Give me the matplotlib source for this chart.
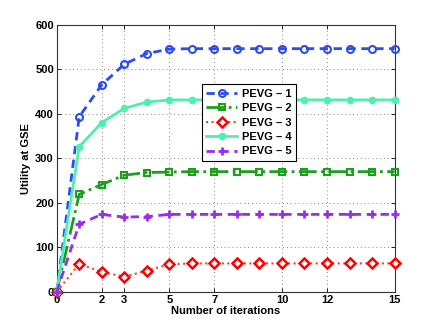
import matplotlib
matplotlib.use("Agg")
import matplotlib.pyplot as plt

iterations = list(range(16))
pevg1 = [0, 393, 465, 511, 535, 545, 546, 546, 546, 546, 546, 546, 546, 546, 546, 546]
pevg2 = [0, 219, 241, 262, 268, 269, 270, 270, 270, 270, 270, 270, 270, 270, 270, 270]
pevg3 = [0, 63, 45, 34, 48, 62, 64, 64, 64, 64, 64, 64, 64, 64, 64, 64]
pevg4 = [0, 326, 380, 412, 426, 431, 431, 431, 431, 431, 431, 431, 431, 431, 431, 431]
pevg5 = [0, 152, 174, 168, 169, 174, 174, 174, 174, 174, 174, 174, 174, 174, 174, 174]
labels = ["PEVG – 1", "PEVG – 2", "PEVG – 3", "PEVG – 4", "PEVG – 5"]
xticks = [0, 2, 3, 5, 7, 10, 12, 15]
yticks = [0, 100, 200, 300, 400, 500, 600]

plt.rcParams['font.family'] = ['Liberation Sans', 'DejaVu Sans']
plt.rcParams['font.weight'] = 'bold'

fig = plt.figure(figsize=(4.36, 3.28), dpi=100)
ax = fig.add_axes([0.13, 0.11, 0.775, 0.815])

ax.plot(iterations, pevg1, linestyle=(0, (3, 2)), color='#2b4cf5', lw=2, marker='o',
        ms=5, mfc='none', mew=1.5, label=labels[0], clip_on=False, zorder=3)
ax.plot(iterations, pevg2, linestyle='-.', color='#1e9e1e', lw=2, marker='s',
        ms=4.5, mfc='none', mew=1.5, label=labels[1], clip_on=False, zorder=3)
ax.plot(iterations, pevg3, linestyle=':', color='#ff3a3a', lw=1.5, marker='D',
        ms=5, mfc='white', mec='#ff0000', mew=1.8, label=labels[2], clip_on=False, zorder=3)
ax.plot(iterations, pevg4, linestyle='-', color='#4ef0b0', lw=2, marker='o',
        ms=4.5, mfc='#4ef0b0', mew=1, label=labels[3], clip_on=False, zorder=3)
ax.plot(iterations, pevg5, linestyle=(0, (3, 2)), color='#9a2cf0', lw=2, marker='+',
        ms=6, mew=2, label=labels[4], clip_on=False, zorder=3)

ax.set_xlim(0, 15)
ax.set_ylim(0, 600)
ax.set_xticks(xticks)
ax.set_yticks(yticks)
ax.tick_params(direction='in', top=True, right=True, labelsize=8, length=3, width=0.6,
               pad=2)
for lab in ax.get_xticklabels() + ax.get_yticklabels():
    lab.set_fontweight('bold')
ax.grid(True, linestyle=(0, (1, 3)), color='#888888', lw=0.7)
for s in ax.spines.values():
    s.set_linewidth(0.8)
    s.set_color('#333333')

ax.set_xlabel("Number of iterations", fontsize=8, fontweight='bold', labelpad=1)
ax.set_ylabel("Utility at GSE", fontsize=8, fontweight='bold', labelpad=3)

leg = ax.legend(loc='upper left', bbox_to_anchor=(0.429, 0.777), fontsize=8,
                fancybox=False, framealpha=1, edgecolor='black', borderpad=0.4,
                labelspacing=0.4, handlelength=2.8, handletextpad=0.4,
                borderaxespad=0)
leg.get_frame().set_linewidth(0.8)
leg.set_zorder(5)
for t in leg.get_texts():
    t.set_fontweight('bold')

fig.savefig("out.png", dpi=100)
